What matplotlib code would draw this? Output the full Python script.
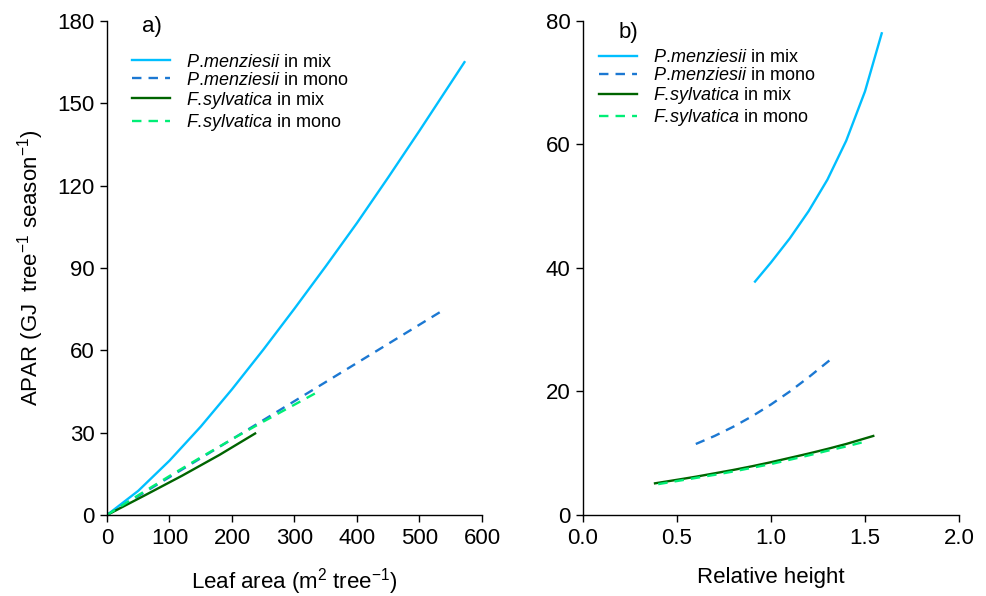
import numpy as np
import matplotlib
matplotlib.use("Agg")
import matplotlib.pyplot as plt

plt.rcParams['font.family'] = ['Liberation Sans', 'DejaVu Sans']
plt.rcParams['mathtext.fontset'] = 'custom'
plt.rcParams['mathtext.rm'] = 'Liberation Sans'
plt.rcParams['mathtext.it'] = 'Liberation Sans:italic'

# panel a: APAR vs leaf area
pm_mix_la = [0, 50, 100, 150, 200, 250, 300, 350, 400, 450, 500, 572]
pm_mix_apar = [0, 8.8, 19.8, 32.2, 45.8, 60.2, 75.2, 90.6, 106.4, 123.0, 140.0, 165.0]
pm_mono_la = [0, 100, 200, 300, 400, 537]
pm_mono_apar = [0, 13.8, 27.6, 41.5, 55.4, 74.5]
fs_mix_la = [0, 60, 120, 180, 237]
fs_mix_apar = [0, 7.1, 14.3, 21.9, 29.7]
fs_mono_la = [0, 50, 100, 150, 200, 250, 300, 333]
fs_mono_apar = [0, 7.2, 14.2, 21.0, 27.6, 34.0, 40.2, 44.3]

# panel b: APAR vs relative height
pm_mix_rh = [0.915, 1.0, 1.1, 1.2, 1.3, 1.4, 1.5, 1.589]
pm_mix_b = [37.8, 40.9, 44.8, 49.2, 54.3, 60.6, 68.6, 78.0]
pm_mono_rh = [0.6, 0.7, 0.8, 0.9, 1.0, 1.1, 1.2, 1.33]
pm_mono_b = [11.5, 12.8, 14.3, 16.0, 17.9, 20.0, 22.3, 25.5]
fs_mix_rh = [0.383, 0.5, 0.6, 0.7, 0.8, 0.9, 1.0, 1.1, 1.2, 1.3, 1.4, 1.544]
fs_mix_b = [5.13, 5.7, 6.2, 6.75, 7.3, 7.9, 8.55, 9.25, 9.95, 10.7, 11.5, 12.8]
fs_mono_rh = [0.40, 0.5, 0.6, 0.7, 0.8, 0.9, 1.0, 1.1, 1.2, 1.3, 1.4, 1.49]
fs_mono_b = [5.0, 5.5, 6.0, 6.5, 7.05, 7.65, 8.25, 8.95, 9.65, 10.4, 11.1, 11.8]

labels = [r'$\mathit{P.\!menziesii}$ in mix', r'$\mathit{P.\!menziesii}$ in mono',
          r'$\mathit{F.\!sylvatica}$ in mix', r'$\mathit{F.\!sylvatica}$ in mono']
colors = ['#00BFFF', '#1C78D2', '#006400', '#00EE76']
styles = ['-', (0, (4, 3)), '-', (0, (4, 3))]

fig = plt.figure(figsize=(9.86, 5.96), dpi=100)
ax1 = fig.add_axes([0.1085, 0.1359, 0.3803, 0.8289])
ax2 = fig.add_axes([0.5913, 0.1359, 0.3813, 0.8289])

data_a = [(pm_mix_la, pm_mix_apar), (pm_mono_la, pm_mono_apar),
          (fs_mix_la, fs_mix_apar), (fs_mono_la, fs_mono_apar)]
data_b = [(pm_mix_rh, pm_mix_b), (pm_mono_rh, pm_mono_b),
          (fs_mix_rh, fs_mix_b), (fs_mono_rh, fs_mono_b)]

for ax, data in [(ax1, data_a), (ax2, data_b)]:
    for (x, y), lab, c, ls in zip(data, labels, colors, styles):
        ax.plot(x, y, color=c, linestyle=ls, lw=1.7, label=lab)
    for s in ['top', 'right']:
        ax.spines[s].set_visible(False)
    for s in ['left', 'bottom']:
        ax.spines[s].set_linewidth(1.0)
    ax.tick_params(direction='out', length=5, width=1.0, labelsize=16, pad=4)

ax1.set_xlim(0, 600)
ax1.set_ylim(0, 180)
ax1.set_xticks(np.arange(0, 601, 100))
ax1.set_yticks(np.arange(0, 181, 30))
ax1.set_xlabel(r'Leaf area (m$^2$ tree$^{-1}$)', fontsize=16, labelpad=13)
ax1.set_ylabel(r'APAR (GJ  tree$^{-1}$ season$^{-1}$)', fontsize=16, labelpad=8)
ax1.text(72, 178, 'a)', fontsize=16, ha='center', va='center')
ax1.legend(loc='upper left', bbox_to_anchor=(0.067, 0.934), frameon=False,
           fontsize=13, handlelength=2.1, handletextpad=0.9, labelspacing=0.06,
           borderpad=0, borderaxespad=0)

ax2.set_xlim(0, 2.0)
ax2.set_ylim(0, 80)
ax2.set_xticks(np.arange(0, 2.01, 0.5))
ax2.set_xticklabels(['0.0', '0.5', '1.0', '1.5', '2.0'])
ax2.set_yticks(np.arange(0, 81, 20))
ax2.set_xlabel('Relative height', fontsize=16, labelpad=13)
ax2.text(0.24, 78.2, 'b)', fontsize=16, ha='center', va='center')
ax2.legend(loc='upper left', bbox_to_anchor=(0.043, 0.943), frameon=False,
           fontsize=13, handlelength=2.1, handletextpad=0.9, labelspacing=0.06,
           borderpad=0, borderaxespad=0)

fig.savefig('out.png', dpi=100)
